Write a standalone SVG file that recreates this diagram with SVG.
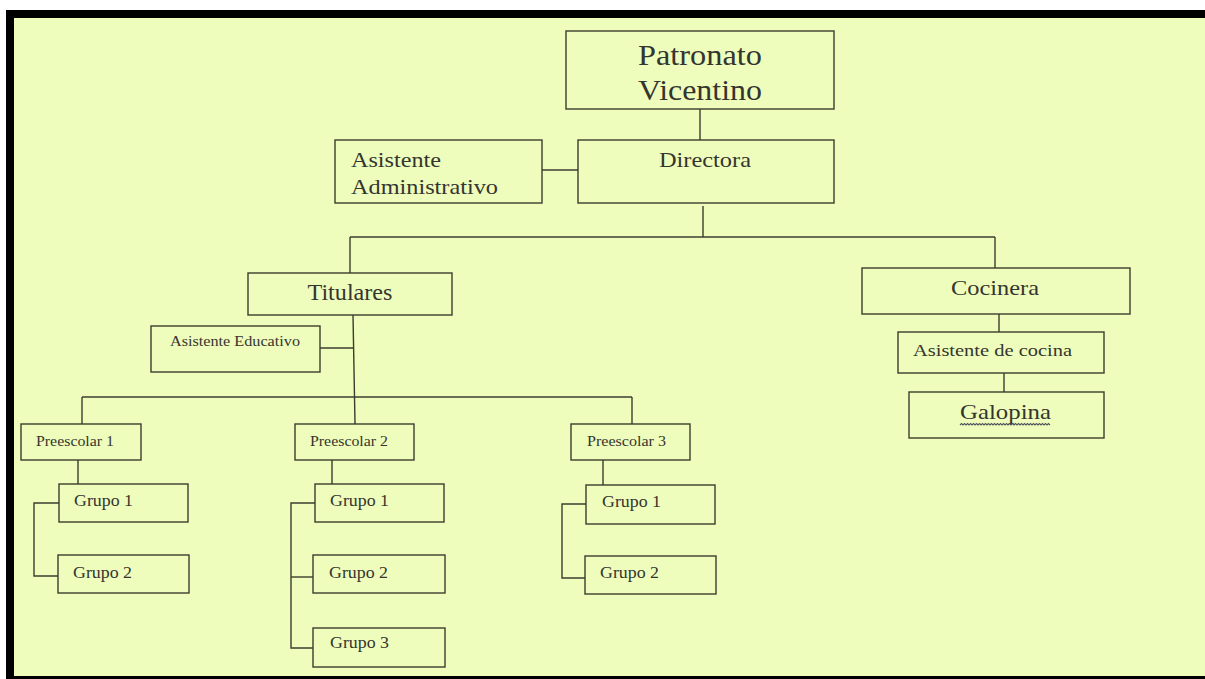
<svg xmlns="http://www.w3.org/2000/svg" width="1205" height="679" viewBox="0 0 1205 679">
<style>
.box{fill:none;stroke:#3c3c30;stroke-width:1.4}
.ln{fill:none;stroke:#3c3c30;stroke-width:1.4}
text{font-family:"Liberation Serif","Times New Roman",serif;fill:#353530}
.sq{fill:none;stroke:#555560;stroke-width:1.1}
</style>
<rect x="0" y="0" width="1205" height="679" fill="#ffffff"/>
<rect x="6" y="10" width="1199" height="669" fill="#000000"/>
<rect x="14" y="18" width="1191" height="658" fill="#eefdbb"/>
<g id="connectors">
<line class="ln" x1="700" y1="109" x2="700" y2="140"/>
<line class="ln" x1="542" y1="170" x2="578" y2="170"/>
<line class="ln" x1="703" y1="206" x2="703" y2="237"/>
<line class="ln" x1="350" y1="237" x2="995" y2="237"/>
<line class="ln" x1="350" y1="237" x2="350" y2="273"/>
<line class="ln" x1="995" y1="237" x2="995" y2="268"/>
<line class="ln" x1="999" y1="314" x2="999" y2="332"/>
<line class="ln" x1="1004" y1="373" x2="1004" y2="392"/>
<line class="ln" x1="353" y1="315" x2="355" y2="424"/>
<line class="ln" x1="320" y1="348" x2="353.6" y2="348"/>
<line class="ln" x1="82" y1="397" x2="632" y2="397"/>
<line class="ln" x1="82" y1="397" x2="82" y2="424"/>
<line class="ln" x1="632" y1="397" x2="632" y2="424"/>
<line class="ln" x1="78" y1="460" x2="78" y2="484"/>
<polyline class="ln" points="59,503 34,503 34,576 58,576"/>
<line class="ln" x1="332" y1="460" x2="332" y2="484"/>
<polyline class="ln" points="315,503 291,503 291,648 313,648"/>
<line class="ln" x1="291" y1="577" x2="313" y2="577"/>
<line class="ln" x1="603" y1="460" x2="603" y2="485"/>
<polyline class="ln" points="586,504 562,504 562,578 585,578"/>
</g>
<g id="patronato">
<rect class="box" x="566" y="31" width="268" height="78"/>
<text x="700" y="65" font-size="29" text-anchor="middle" textLength="124" lengthAdjust="spacingAndGlyphs">Patronato</text>
<text x="700" y="100" font-size="29" text-anchor="middle" textLength="124" lengthAdjust="spacingAndGlyphs">Vicentino</text>
</g>
<g id="directora">
<rect class="box" x="578" y="140" width="256" height="63"/>
<text x="705" y="167" font-size="21" text-anchor="middle" textLength="92" lengthAdjust="spacingAndGlyphs">Directora</text>
</g>
<g id="asistente-administrativo">
<rect class="box" x="335" y="140" width="207" height="63"/>
<text x="351" y="167" font-size="21" textLength="90" lengthAdjust="spacingAndGlyphs">Asistente</text>
<text x="351" y="194" font-size="21" textLength="147" lengthAdjust="spacingAndGlyphs">Administrativo</text>
</g>
<g id="titulares">
<rect class="box" x="248" y="273" width="204" height="42"/>
<text x="350" y="300" font-size="23" text-anchor="middle" textLength="85" lengthAdjust="spacingAndGlyphs">Titulares</text>
</g>
<g id="asistente-educativo">
<rect class="box" x="151" y="326" width="169" height="46"/>
<text x="170" y="346" font-size="15" textLength="130" lengthAdjust="spacingAndGlyphs">Asistente Educativo</text>
</g>
<g id="cocinera">
<rect class="box" x="862" y="268" width="268" height="46"/>
<text x="995" y="295" font-size="22" text-anchor="middle" textLength="88" lengthAdjust="spacingAndGlyphs">Cocinera</text>
</g>
<g id="asistente-cocina">
<rect class="box" x="898" y="332" width="206" height="41"/>
<text x="913" y="356" font-size="17" textLength="159" lengthAdjust="spacingAndGlyphs">Asistente de cocina</text>
</g>
<g id="galopina">
<rect class="box" x="909" y="392" width="195" height="46"/>
<text x="960" y="419" font-size="22" textLength="91" lengthAdjust="spacingAndGlyphs">Galopina</text>
<path class="sq" d="M960,425 l1.5,-1.5 l1.5,1.5 l1.5,-1.5 l1.5,1.5 l1.5,-1.5 l1.5,1.5 l1.5,-1.5 l1.5,1.5 l1.5,-1.5 l1.5,1.5 l1.5,-1.5 l1.5,1.5 l1.5,-1.5 l1.5,1.5 l1.5,-1.5 l1.5,1.5 l1.5,-1.5 l1.5,1.5 l1.5,-1.5 l1.5,1.5 l1.5,-1.5 l1.5,1.5 l1.5,-1.5 l1.5,1.5 l1.5,-1.5 l1.5,1.5 l1.5,-1.5 l1.5,1.5 l1.5,-1.5 l1.5,1.5 l1.5,-1.5 l1.5,1.5 l1.5,-1.5 l1.5,1.5 l1.5,-1.5 l1.5,1.5 l1.5,-1.5 l1.5,1.5 l1.5,-1.5 l1.5,1.5 l1.5,-1.5 l1.5,1.5 l1.5,-1.5 l1.5,1.5 l1.5,-1.5 l1.5,1.5 l1.5,-1.5 l1.5,1.5 l1.5,-1.5 l1.5,1.5 l1.5,-1.5 l1.5,1.5 l1.5,-1.5 l1.5,1.5 l1.5,-1.5 l1.5,1.5 l1.5,-1.5 l1.5,1.5 l1.5,-1.5 l1.5,1.5"/>
</g>
<g id="preescolar1">
<rect class="box" x="21" y="424" width="120" height="36"/>
<text x="36" y="446" font-size="15" textLength="78" lengthAdjust="spacingAndGlyphs">Preescolar 1</text>
</g>
<g id="p1-grupo1">
<rect class="box" x="59" y="484" width="129" height="38"/>
<text x="74" y="506" font-size="16" textLength="59" lengthAdjust="spacingAndGlyphs">Grupo 1</text>
</g>
<g id="p1-grupo2">
<rect class="box" x="58" y="555" width="131" height="38"/>
<text x="73" y="578" font-size="16" textLength="59" lengthAdjust="spacingAndGlyphs">Grupo 2</text>
</g>
<g id="preescolar2">
<rect class="box" x="295" y="424" width="119" height="36"/>
<text x="310" y="446" font-size="15" textLength="78" lengthAdjust="spacingAndGlyphs">Preescolar 2</text>
</g>
<g id="p2-grupo1">
<rect class="box" x="315" y="484" width="129" height="38"/>
<text x="330" y="506" font-size="16" textLength="59" lengthAdjust="spacingAndGlyphs">Grupo 1</text>
</g>
<g id="p2-grupo2">
<rect class="box" x="313" y="555" width="132" height="38"/>
<text x="329" y="578" font-size="16" textLength="59" lengthAdjust="spacingAndGlyphs">Grupo 2</text>
</g>
<g id="p2-grupo3">
<rect class="box" x="313" y="628" width="132" height="39"/>
<text x="330" y="648" font-size="16" textLength="59" lengthAdjust="spacingAndGlyphs">Grupo 3</text>
</g>
<g id="preescolar3">
<rect class="box" x="571" y="424" width="119" height="36"/>
<text x="587" y="446" font-size="15" textLength="79" lengthAdjust="spacingAndGlyphs">Preescolar 3</text>
</g>
<g id="p3-grupo1">
<rect class="box" x="586" y="485" width="129" height="39"/>
<text x="602" y="507" font-size="16" textLength="59" lengthAdjust="spacingAndGlyphs">Grupo 1</text>
</g>
<g id="p3-grupo2">
<rect class="box" x="585" y="556" width="131" height="38"/>
<text x="600" y="578" font-size="16" textLength="59" lengthAdjust="spacingAndGlyphs">Grupo 2</text>
</g>
</svg>
